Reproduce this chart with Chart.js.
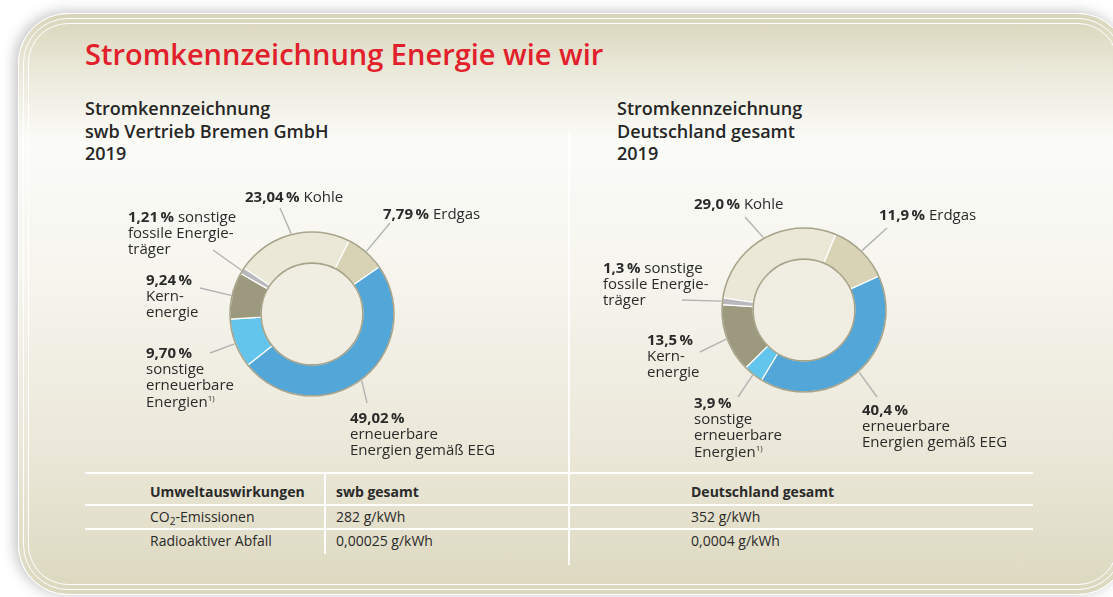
<!DOCTYPE html>
<html lang="de">
<head>
<meta charset="utf-8">
<title>Stromkennzeichnung Energie wie wir</title>
<script src="https://cdn.jsdelivr.net/npm/chart.js@4/dist/chart.umd.min.js"></script>
<style>
  html, body { margin: 0; padding: 0; background: #fff; }
  #page { position: relative; width: 1113px; height: 597px; overflow: hidden; font-family: "Open Sans", "Noto Sans", sans-serif; color: #2a2a2a; }
  .card { position: absolute; left: 18px; top: 13px; width: 1110px; height: 582px; box-sizing: border-box;
    border: 1.5px solid #fff; border-radius: 50px;
    background: linear-gradient(to bottom, #d9d5ba 0%, #ebe9da 10%, #fbfbf8 22%, #f6f5ee 45%, #ebe8d9 75%, #dcd8bf 100%);
    box-shadow: -3px -1px 14px rgba(0,0,0,0.25); }
  .card .b2 { position: absolute; left: 4px; top: 4px; right: 4px; bottom: 4px; border: 1.5px solid #fff; border-radius: 45px; }
  .card .b3 { position: absolute; left: 4px; top: 4px; right: 4px; bottom: 4px; border: 1.5px solid #fff; border-radius: 40px; }
  h1 { position: absolute; left: 85px; top: 34px; margin: 0; font-size: 29px; font-weight: 600; color: #e2202b; white-space: nowrap; }
  .sub { position: absolute; top: 97px; margin: 0; font-size: 18px; line-height: 22.5px; font-weight: 600; color: #262626; }
  .lbl { position: absolute; font-size: 15px; line-height: 16.2px; color: #2b2b2b; white-space: nowrap; }
  .lbl b { font-weight: 700; }
  .lbl sup { font-size: 8px; line-height: 0; position: relative; top: -6px; vertical-align: baseline; }
  canvas { position: absolute; }
  .vline { position: absolute; background: #fff; }
  .tbl { position: absolute; font-family: "Open Sans", sans-serif; font-size: 14px; color: #2a2a2a; white-space: nowrap; }
  .tbl.h { font-weight: 700; }
</style>
</head>
<body>
<div id="page">
  <div class="card"><div class="b2"><div class="b3"></div></div></div>
  <div class="vline" style="left:568px; top:133px; width:2px; height:432px; opacity:0.9"></div>

  <h1>Stromkennzeichnung Energie wie wir</h1>
  <div class="sub" style="left:85px">Stromkennzeichnung<br>swb Vertrieb Bremen GmbH<br>2019</div>
  <div class="sub" style="left:617px">Stromkennzeichnung<br>Deutschland gesamt<br>2019</div>

  <canvas id="swbChart" width="400" height="300" style="left:112px; top:164px"></canvas>
  <canvas id="deChart" width="400" height="300" style="left:604px; top:160px"></canvas>

  <!-- table -->
  <div class="vline" style="left:85px; top:472px; width:948px; height:2px"></div>
  <div class="vline" style="left:85px; top:504px; width:948px; height:2px"></div>
  <div class="vline" style="left:85px; top:528px; width:948px; height:2px"></div>
  <div class="vline" style="left:324px; top:472px; width:2px; height:82px"></div>
  <div id="table"></div>
</div>

<script>
// shares of the energy sources in %
const sources = ['Kohle', 'Erdgas', 'erneuerbare Energien gemäß EEG', 'sonstige erneuerbare Energien', 'Kernenergie', 'sonstige fossile Energieträger'];
const swbShares = [23.04, 7.79, 49.02, 9.70, 9.24, 1.21];
const deShares = [29.0, 11.9, 40.4, 3.9, 13.5, 1.3];
const sliceColors = ['#ebe8d8', '#d8d3b4', '#52a6d8', '#64c5ec', '#9d997f', '#b9b9bd'];

// label text per source, {v} gets the value
const labelLines = [
  ['{v} Kohle'],
  ['{v} Erdgas'],
  ['{v}', 'erneuerbare', 'Energien gemäß EEG'],
  ['{v}', 'sonstige', 'erneuerbare', 'Energien<sup>1)</sup>'],
  ['{v}', 'Kern-', 'energie'],
  ['{v} sonstige', 'fossile Energie-', 'träger']
];

// environmental impact table
const impactHeader = ['Umweltauswirkungen', 'swb gesamt', 'Deutschland gesamt'];
const impactRows = [
  ['CO<sub style="font-size:10px;line-height:0;position:relative;top:3px;vertical-align:baseline">2</sub>-Emissionen', '282 g/kWh', '352 g/kWh'],
  ['Radioaktiver Abfall', '0,00025 g/kWh', '0,0004 g/kWh']
];

// label block positions (page px) and leader line end points
const swbLabelPos = [[245, 188], [383, 205], [350, 409], [146, 344], [146, 271], [128, 208]];
const swbLeaderEnd = [[280, 208], [390, 223], [367, 403], [210, 353], [200, 288], [213, 250]];
const deLabelPos = [[694, 195], [879, 206], [862, 401], [694, 394], [647, 331], [603, 259]];
const deLeaderEnd = [[745, 217], [887, 228], [877, 397], [738, 397], [700, 352], [682, 300]];

function fmt(v, digits) {
  return v.toFixed(digits).replace('.', ',') + '\u2009%';
}

function addLabels(values, digits, pos) {
  const page = document.getElementById('page');
  values.forEach((v, i) => {
    const div = document.createElement('div');
    div.className = 'lbl';
    div.style.left = pos[i][0] + 'px';
    div.style.top = pos[i][1] + 'px';
    div.innerHTML = labelLines[i].map(l => l.replace('{v}', '<b>' + fmt(v, digits) + '</b>')).join('<br>');
    page.appendChild(div);
  });
}

function buildTable() {
  const t = document.getElementById('table');
  const cols = [150, 336, 691];
  const rowsY = [482, 507, 531];
  [impactHeader, ...impactRows].forEach((row, r) => {
    row.forEach((txt, c) => {
      const d = document.createElement('div');
      d.className = 'tbl' + (r === 0 ? ' h' : '');
      d.style.left = cols[c] + 'px';
      d.style.top = rowsY[r] + 'px';
      d.innerHTML = txt;
      t.appendChild(d);
    });
  });
}

// ring outlines, hole fill and leader lines
const ringPlugin = {
  id: 'ring',
  beforeDatasetsDraw(chart) {
    const arc = chart.getDatasetMeta(0).data[0];
    const ctx = chart.ctx;
    ctx.save();
    ctx.beginPath();
    ctx.arc(arc.x, arc.y, arc.innerRadius, 0, Math.PI * 2);
    ctx.fillStyle = '#f0eee3';
    ctx.fill();
    ctx.restore();
  },
  afterDatasetsDraw(chart, args, opts) {
    const meta = chart.getDatasetMeta(0);
    const arc0 = meta.data[0];
    const ctx = chart.ctx;
    const canvasRect = chart.canvas.getBoundingClientRect();
    const pageRect = document.getElementById('page').getBoundingClientRect();
    const ox = canvasRect.left - pageRect.left;
    const oy = canvasRect.top - pageRect.top;
    ctx.save();
    ctx.strokeStyle = '#a7a388';
    ctx.lineWidth = 1.6;
    [arc0.outerRadius, arc0.innerRadius].forEach(r => {
      ctx.beginPath();
      ctx.arc(arc0.x, arc0.y, r, 0, Math.PI * 2);
      ctx.stroke();
    });
    ctx.strokeStyle = '#b3b3b3';
    ctx.lineWidth = 1.4;
    meta.data.forEach((el, i) => {
      const mid = (el.startAngle + el.endAngle) / 2;
      const r = el.outerRadius + 1;
      const end = opts.ends[i];
      ctx.beginPath();
      ctx.moveTo(el.x + Math.cos(mid) * r, el.y + Math.sin(mid) * r);
      ctx.lineTo(end[0] - ox, end[1] - oy);
      ctx.stroke();
    });
    ctx.restore();
  }
};

function makeDonut(id, values, rotation, ends) {
  return new Chart(document.getElementById(id), {
    type: 'doughnut',
    data: {
      labels: sources,
      datasets: [{
        data: values,
        backgroundColor: sliceColors,
        borderColor: '#ffffff',
        borderWidth: 1.2
      }]
    },
    options: {
      responsive: false,
      maintainAspectRatio: false,
      animation: false,
      rotation: rotation,
      radius: 82,
      cutout: '62%',
      layout: { padding: 0 },
      plugins: {
        legend: { display: false },
        tooltip: { enabled: false },
        ring: { ends: ends }
      }
    },
    plugins: [ringPlugin]
  });
}

addLabels(swbShares, 2, swbLabelPos);
addLabels(deShares, 1, deLabelPos);
buildTable();
makeDonut('swbChart', swbShares, -56, swbLeaderEnd);
makeDonut('deChart', deShares, -81.5, deLeaderEnd);
</script>
</body>
</html>
